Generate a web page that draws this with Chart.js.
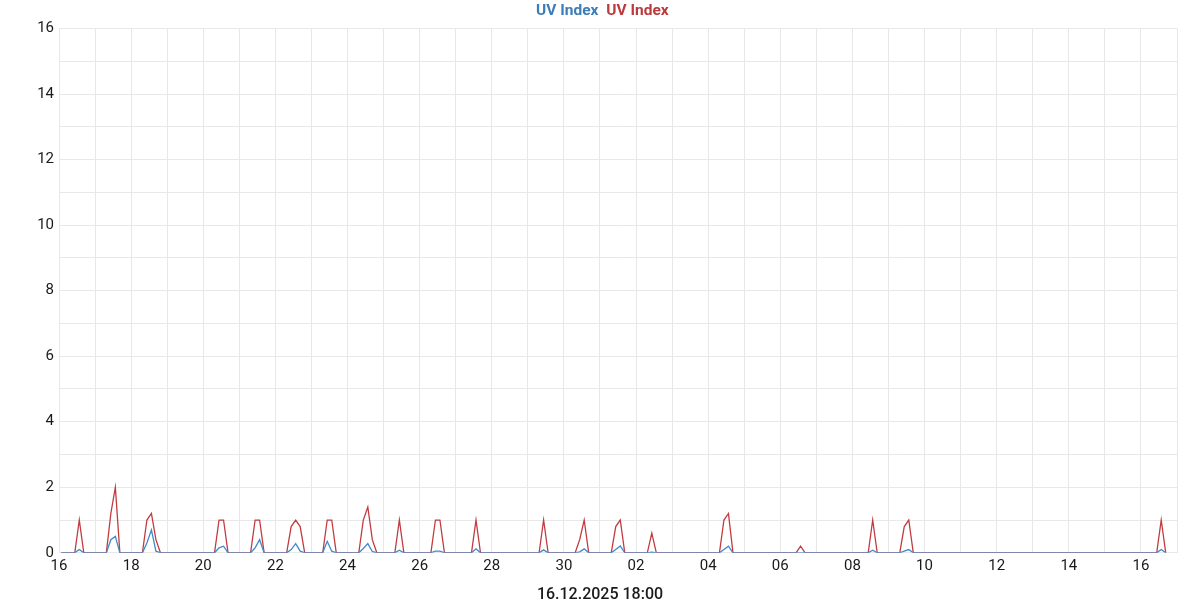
<!DOCTYPE html>
<html>
<head>
<meta charset="utf-8">
<script src="https://cdn.jsdelivr.net/npm/chart.js@4"></script>
<style>
    html, body { margin: 0; padding: 0; background: #fff; }
    #wrap { width: 1200px; height: 600px; }
</style>
</head>
<body>
<div id="wrap"><canvas id="uvChart" width="1200" height="600"></canvas></div>
<script>
// Valeurs toutes les 3 heures, une ligne par jour (8 mesures)
const uvIndexRed = [
    0, 0, 0, 0, 1.0, 0, 0, 0,
    0, 0, 0, 1.2, 2.0, 0, 0, 0,
    0, 0, 0, 1.0, 1.2, 0.4, 0, 0,
    0, 0, 0, 0, 0, 0, 0, 0,
    0, 0, 0, 1.0, 1.0, 0, 0, 0,
    0, 0, 0, 1.0, 1.0, 0, 0, 0,
    0, 0, 0, 0.8, 1.0, 0.8, 0, 0,
    0, 0, 0, 1.0, 1.0, 0, 0, 0,
    0, 0, 0, 1.0, 1.4, 0.4, 0, 0,
    0, 0, 0, 1.0, 0, 0, 0, 0,
    0, 0, 0, 1.0, 1.0, 0, 0, 0,
    0, 0, 0, 0, 1.0, 0, 0, 0,
    0, 0, 0, 0, 0, 0, 0, 0,
    0, 0, 0, 1.0, 0, 0, 0, 0,
    0, 0, 0, 0.4, 1.0, 0, 0, 0,
    0, 0, 0, 0.8, 1.0, 0, 0, 0,
    0, 0, 0, 0.6, 0, 0, 0, 0,
    0, 0, 0, 0, 0, 0, 0, 0,
    0, 0, 0, 1.0, 1.2, 0, 0, 0,
    0, 0, 0, 0, 0, 0, 0, 0,
    0, 0, 0, 0, 0.2, 0, 0, 0,
    0, 0, 0, 0, 0, 0, 0, 0,
    0, 0, 0, 0, 1.0, 0, 0, 0,
    0, 0, 0, 0.8, 1.0, 0, 0, 0,
    0, 0, 0, 0, 0, 0, 0, 0,
    0, 0, 0, 0, 0, 0, 0, 0,
    0, 0, 0, 0, 0, 0, 0, 0,
    0, 0, 0, 0, 0, 0, 0, 0,
    0, 0, 0, 0, 0, 0, 0, 0,
    0, 0, 0, 0, 0, 0, 0, 0,
    0, 0, 0, 0, 1.0, 0
];

const uvIndexBlue = [
    0, 0, 0, 0, 0.1, 0, 0, 0,
    0, 0, 0, 0.4, 0.5, 0, 0, 0,
    0, 0, 0, 0.3, 0.7, 0.05, 0, 0,
    0, 0, 0, 0, 0, 0, 0, 0,
    0, 0, 0, 0.15, 0.2, 0, 0, 0,
    0, 0, 0, 0.15, 0.4, 0, 0, 0,
    0, 0, 0, 0.1, 0.28, 0.05, 0, 0,
    0, 0, 0, 0.35, 0.05, 0, 0, 0,
    0, 0, 0, 0.13, 0.28, 0.04, 0, 0,
    0, 0, 0, 0.08, 0, 0, 0, 0,
    0, 0, 0, 0.05, 0.05, 0, 0, 0,
    0, 0, 0, 0, 0.12, 0, 0, 0,
    0, 0, 0, 0, 0, 0, 0, 0,
    0, 0, 0, 0.09, 0, 0, 0, 0,
    0, 0, 0, 0.03, 0.12, 0, 0, 0,
    0, 0, 0, 0.1, 0.21, 0, 0, 0,
    0, 0, 0, 0.02, 0, 0, 0, 0,
    0, 0, 0, 0, 0, 0, 0, 0,
    0, 0, 0, 0.1, 0.2, 0, 0, 0,
    0, 0, 0, 0, 0, 0, 0, 0,
    0, 0, 0, 0, 0, 0, 0, 0,
    0, 0, 0, 0, 0, 0, 0, 0,
    0, 0, 0, 0, 0.08, 0, 0, 0,
    0, 0, 0, 0.05, 0.1, 0, 0, 0,
    0, 0, 0, 0, 0, 0, 0, 0,
    0, 0, 0, 0, 0, 0, 0, 0,
    0, 0, 0, 0, 0, 0, 0, 0,
    0, 0, 0, 0, 0, 0, 0, 0,
    0, 0, 0, 0, 0, 0, 0, 0,
    0, 0, 0, 0, 0, 0, 0, 0,
    0, 0, 0, 0, 0.1, 0
];

// Une ligne de grille par jour, un libellé tous les deux jours
const xTickLabels = ['16', '18', '20', '22', '24', '26', '28', '30', '02', '04', '06', '08', '10', '12', '14', '16'];
const yTickLabels = ['0', '2', '4', '6', '8', '10', '12', '14', '16'];
const samplesPerDay = 8;
const dayCount = 31;
const bottomTitle = '16.12.2025 18:00';
const seriesName = 'UV Index';

const BLUE = '#4189c8';
const RED = '#c23b3f';
const BLUE_TEXT = '#3a7db8';
const RED_TEXT = '#bb3a3c';
const FONT = 'Roboto, "DejaVu Sans", sans-serif';

function toPoints(values) {
    return values.map((v, i) => ({ x: i, y: v }));
}

const ctx = document.getElementById('uvChart').getContext('2d');
new Chart(ctx, {
    type: 'line',
    data: {
        datasets: [{
            label: seriesName,
            data: toPoints(uvIndexBlue),
            borderColor: BLUE,
            textColor: BLUE_TEXT,
            borderWidth: 1.3,
            pointRadius: 0,
            tension: 0,
            fill: false
        }, {
            label: seriesName,
            data: toPoints(uvIndexRed),
            borderColor: RED,
            textColor: RED_TEXT,
            borderWidth: 1.3,
            pointRadius: 0,
            tension: 0,
            fill: false
        }]
    },
    options: {
        responsive: false,
        animation: false,
        layout: { padding: { left: 0, right: 0, top: 0, bottom: -5 } },
        plugins: {
            legend: {
                display: true,
                position: 'top',
                labels: {
                    boxWidth: -3,
                    boxHeight: 0,
                    padding: 3,
                    font: { family: FONT, size: 15.5, weight: 'bold' },
                    generateLabels: (chart) => chart.data.datasets.map((ds, i) => ({
                        text: ds.label,
                        fontColor: ds.textColor,
                        fillStyle: 'transparent',
                        strokeStyle: 'transparent',
                        lineWidth: 0,
                        datasetIndex: i
                    }))
                }
            },
            // date en bas, centrée sur toute la largeur
            title: {
                display: true,
                position: 'bottom',
                text: bottomTitle,
                color: '#1a1a1a',
                font: { family: FONT, size: 16, weight: '500' },
                padding: { top: 7, bottom: 0 }
            },
            tooltip: { enabled: false }
        },
        scales: {
            x: {
                type: 'linear',
                min: -0.5,
                max: dayCount * samplesPerDay - 0.5,
                afterBuildTicks: (scale) => {
                    const ticks = [];
                    for (let k = 0; k <= dayCount; k++) {
                        ticks.push({ value: k * samplesPerDay - 0.5 });
                    }
                    scale.ticks = ticks;
                },
                grid: { color: '#e8e8e8', drawTicks: false },
                border: { color: '#e8e8e8' },
                ticks: {
                    autoSkip: false,
                    maxRotation: 0,
                    padding: 4,
                    color: '#1a1a1a',
                    font: { family: FONT, size: 15 },
                    callback: function (value, index) {
                        return index % 2 === 0 ? (xTickLabels[index / 2] || '') : '';
                    }
                }
            },
            y: {
                min: 0,
                max: 16,
                afterFit: (scale) => { scale.width = 59; },
                grid: { color: '#e8e8e8', drawTicks: false },
                border: { color: '#e8e8e8' },
                ticks: {
                    stepSize: 1,
                    padding: 5,
                    color: '#1a1a1a',
                    font: { family: FONT, size: 15 },
                    callback: function (value) {
                        return value % 2 === 0 ? yTickLabels[value / 2] : '';
                    }
                }
            },
            // axe vide à droite pour garder la marge
            yRight: {
                position: 'right',
                min: 0,
                max: 16,
                afterFit: (scale) => { scale.width = 23; },
                grid: { display: false, drawTicks: false },
                border: { display: false },
                ticks: { display: false }
            }
        }
    }
});
</script>
</body>
</html>
